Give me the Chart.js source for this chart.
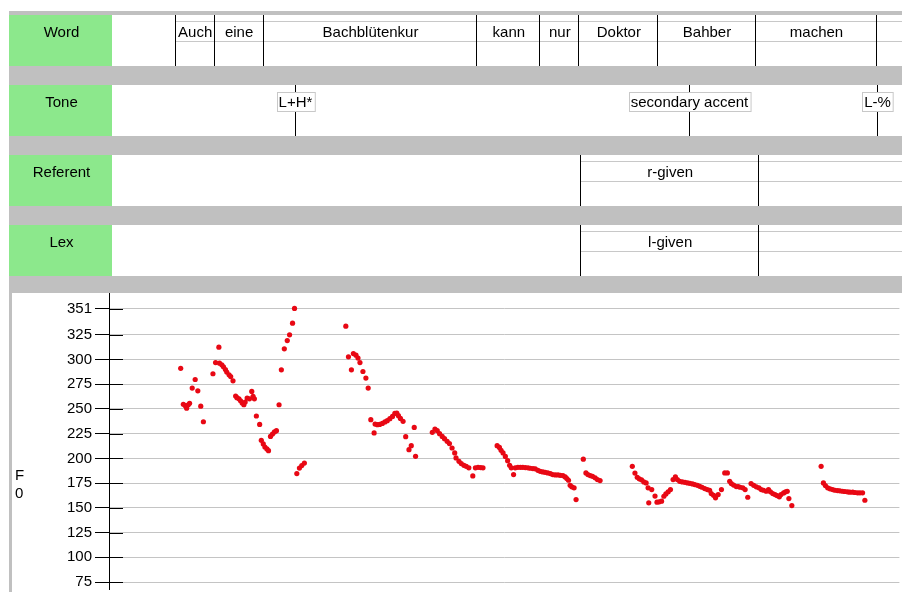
<!DOCTYPE html>
<html>
<head>
<meta charset="utf-8">
<title>F0 contour with annotation tiers</title>
<script src="https://cdn.jsdelivr.net/npm/chart.js@4/dist/chart.umd.min.js"></script>
<style>
  html, body { margin: 0; padding: 0; background: #ffffff; }
  canvas { display: block; }
</style>
</head>
<body>
<canvas id="c" width="902" height="592"></canvas>
<script>
// ---- annotation tiers (times in seconds) ----
const TIER_NAMES = ['Word', 'Tone', 'Referent', 'Lex'];
const WORD_BOUNDS = [0.200, 0.318, 0.467, 1.117, 1.308, 1.427, 1.667, 1.963, 2.333];
const WORD_LABELS = ['Auch', 'eine', 'Bachblütenkur', 'kann', 'nur', 'Doktor', 'Bahber', 'machen'];
const TONE_TIMES = [0.565, 1.763, 2.336];
const TONE_LABELS = ['L+H*', 'secondary accent', 'L-%'];
const REFERENT_BOUNDS = [1.432, 1.974];
const REFERENT_LABELS = ['r-given'];
const LEX_BOUNDS = [1.432, 1.974];
const LEX_LABELS = ['l-given'];

// ---- F0 track ----
const TIMES = [
  0.218, 0.226, 0.232, 0.236, 0.241, 0.245, 0.253, 0.262, 0.270, 0.279, 0.287,
  0.316, 0.324, 0.334, 0.336, 0.343, 0.348, 0.354, 0.358, 0.365, 0.370, 0.377,
  0.385, 0.389, 0.395, 0.400, 0.405, 0.410, 0.414, 0.420, 0.427, 0.434, 0.438, 0.442,
  0.448, 0.458, 0.463, 0.469, 0.474, 0.480, 0.485, 0.491, 0.497, 0.503, 0.509,
  0.517, 0.524, 0.533, 0.542, 0.549, 0.558, 0.564, 0.571, 0.579, 0.586, 0.594,
  0.720, 0.728, 0.737, 0.743, 0.751, 0.757, 0.763, 0.772, 0.781, 0.788, 0.796, 0.806,
  0.809, 0.816, 0.823, 0.831, 0.839, 0.846, 0.854, 0.862, 0.869, 0.875, 0.880, 0.886, 0.894,
  0.902, 0.912, 0.919, 0.928, 0.932,
  0.983, 0.991, 0.998, 1.005, 1.013, 1.020, 1.028, 1.035, 1.043, 1.051, 1.055, 1.064,
  1.071, 1.079, 1.086, 1.094, 1.106, 1.114, 1.122, 1.130, 1.137,
  1.180, 1.187, 1.192, 1.198, 1.205, 1.212, 1.218, 1.223, 1.230, 1.235, 1.243, 1.251,
  1.258, 1.266, 1.274, 1.281, 1.289, 1.296, 1.304, 1.311, 1.319, 1.326, 1.334, 1.342,
  1.349, 1.357, 1.365, 1.372, 1.380, 1.387, 1.392, 1.397, 1.402, 1.407, 1.414, 1.420,
  1.442, 1.450, 1.456, 1.463, 1.470, 1.478, 1.485, 1.493,
  1.591, 1.599, 1.606, 1.612, 1.619, 1.626, 1.633, 1.639, 1.641, 1.650, 1.660, 1.666,
  1.673, 1.680, 1.687, 1.693, 1.700, 1.707, 1.715, 1.722, 1.728, 1.735, 1.743, 1.751,
  1.759, 1.766, 1.774, 1.781, 1.789, 1.796, 1.803, 1.811, 1.819, 1.826, 1.831, 1.838,
  1.844, 1.852, 1.862, 1.872, 1.880, 1.887, 1.892, 1.899, 1.907, 1.913, 1.919, 1.927,
  1.934, 1.942, 1.952, 1.960, 1.968, 1.976, 1.983, 1.990, 1.998, 2.005, 2.011, 2.018,
  2.025, 2.031, 2.038, 2.043, 2.051, 2.057, 2.062, 2.067, 2.076,
  2.165, 2.172, 2.178, 2.185, 2.192, 2.200, 2.207, 2.215, 2.222, 2.230, 2.237, 2.245,
  2.252, 2.261, 2.268, 2.276, 2.283, 2.291, 2.298
];
const F0_HZ = [
  291.0, 254.7, 253.2, 250.7, 254.2, 255.7, 271.0, 279.7, 268.3, 252.7, 237.0,
  285.5, 296.8, 312.4, 296.2, 294.5, 292.5, 289.8, 287.2, 284.4, 282.7, 278.4,
  263.0, 261.3, 260.2, 258.2, 255.9, 254.2, 256.9, 261.0, 260.2, 267.6, 262.6, 260.2,
  242.8, 234.3, 218.2, 214.6, 211.5, 209.5, 207.8, 222.2, 224.6, 226.7, 228.0,
  254.2, 289.5, 310.7, 319.0, 324.8, 336.6, 351.5, 184.6, 190.2, 192.7, 195.2,
  333.6, 302.6, 289.5, 305.9, 304.3, 301.3, 296.8, 287.8, 281.1, 271.0, 239.1, 225.7,
  234.7, 234.0, 234.3, 235.3, 236.8, 238.1, 240.1, 242.4, 245.4, 245.8, 243.1, 240.4, 237.4,
  221.9, 208.8, 212.8, 231.3, 202.1,
  226.3, 229.7, 228.0, 225.0, 222.2, 219.9, 217.2, 214.9, 210.5, 205.5, 200.4, 197.0,
  194.7, 193.0, 192.0, 190.4, 182.3, 190.4, 191.0, 190.7, 190.4,
  212.8, 211.1, 208.1, 205.5, 202.0, 197.7, 193.0, 190.4, 183.6, 190.4, 191.0, 191.0,
  191.0, 190.7, 190.4, 190.0, 189.7, 189.4, 187.9, 186.9, 186.3, 185.9, 185.3, 184.6,
  183.6, 183.3, 183.3, 182.9, 182.6, 181.3, 179.6, 177.9, 172.8, 171.2, 170.2, 158.4,
  199.2, 185.3, 183.6, 182.6, 181.9, 180.3, 178.6, 177.6,
  192.0, 185.1, 180.9, 179.3, 178.3, 176.2, 175.2, 170.2, 155.1, 168.5, 161.9, 155.7,
  156.1, 156.7, 161.7, 164.1, 166.2, 168.5, 178.6, 181.3, 178.6, 176.8, 176.2, 175.8,
  175.2, 174.8, 174.2, 173.5, 172.8, 171.8, 170.8, 169.5, 168.5, 167.8, 164.4, 162.7,
  160.1, 163.4, 168.5, 185.3, 185.3, 176.8, 174.5, 173.0, 171.5, 171.5, 170.8, 170.2,
  168.5, 160.7, 174.5, 172.8, 171.2, 170.2, 168.5, 167.8, 166.8, 168.5, 166.2, 164.4,
  163.4, 162.4, 161.1, 163.4, 165.1, 166.2, 166.8, 159.4, 152.3,
  192.0, 175.2, 172.5, 170.2, 169.2, 168.5, 167.8, 167.5, 167.2, 166.8, 166.5, 166.2,
  165.8, 165.8, 165.5, 165.2, 165.2, 165.2, 157.7
];
const Y_TICKS = [75, 100, 125, 150, 175, 200, 225, 250, 275, 300, 325, 351];
const Y_TITLE = ['F', '0'];

const FONT = '15px "Liberation Sans", Arial, sans-serif';
const GREEN = '#8ce88c';
const PANEL_GRAY = '#c0c0c0';
const GUIDE_GRAY = '#c8c8c8';

// Tier panels, axis ticks and the F0 caption are painted around the scatter plot.
const tierPlugin = {
  id: 'tiers',
  beforeDraw(chart) {
    const ctx = chart.ctx;
    ctx.save();
    ctx.fillStyle = '#ffffff';
    ctx.fillRect(0, 0, chart.width, chart.height);
    ctx.restore();
  },
  afterDraw(chart) {
    const ctx = chart.ctx;
    const xs = chart.scales.x;
    const ys = chart.scales.y;
    const W = chart.width;
    const area = chart.chartArea;
    const TOP = 15, H = 51, STEP = 70, LABEL_W = 103, LEFT = 9;
    const px = v => Math.round(xs.getPixelForValue(v)) + 0.5;

    ctx.save();
    // grey frame behind the tiers and down the left edge of the plot
    ctx.fillStyle = PANEL_GRAY;
    ctx.fillRect(LEFT, TOP - 4, W - LEFT, area.top - (TOP - 4));
    ctx.fillRect(LEFT, area.top, 3, chart.height - area.top);

    ctx.font = FONT;
    ctx.textBaseline = 'alphabetic';

    TIER_NAMES.forEach((name, i) => {
      const top = TOP + STEP * i;
      ctx.fillStyle = GREEN;
      ctx.fillRect(LEFT, top, LABEL_W, H);
      ctx.fillStyle = '#ffffff';
      ctx.fillRect(LEFT + LABEL_W, top, W - LEFT - LABEL_W, H);
      ctx.fillStyle = '#000000';
      ctx.textAlign = 'center';
      ctx.fillText(name, LEFT + LABEL_W / 2 + 1, top + 22);
    });

    function intervalTier(top, bounds, labels) {
      const x0 = px(bounds[0]);
      ctx.strokeStyle = GUIDE_GRAY;
      ctx.lineWidth = 1;
      ctx.beginPath();
      ctx.moveTo(x0, top + 6.5); ctx.lineTo(W, top + 6.5);
      ctx.moveTo(x0, top + 26.5); ctx.lineTo(W, top + 26.5);
      ctx.stroke();
      ctx.strokeStyle = '#000000';
      ctx.beginPath();
      bounds.forEach(b => {
        const x = px(b);
        ctx.moveTo(x, top); ctx.lineTo(x, top + H);
      });
      ctx.stroke();
      ctx.fillStyle = '#000000';
      ctx.textAlign = 'center';
      labels.forEach((lab, k) => {
        const c = (xs.getPixelForValue(bounds[k]) + xs.getPixelForValue(bounds[k + 1])) / 2;
        ctx.fillText(lab, c + 1, top + 22);
      });
    }

    function eventTier(top, times, labels) {
      times.forEach((t, k) => {
        const x = px(t);
        const w = ctx.measureText(labels[k]).width + 4;
        const bx = Math.round(x - w / 2) + 0.5;
        ctx.strokeStyle = '#000000';
        ctx.lineWidth = 1;
        ctx.beginPath();
        ctx.moveTo(x, top); ctx.lineTo(x, top + 7);
        ctx.moveTo(x, top + 27); ctx.lineTo(x, top + H);
        ctx.stroke();
        ctx.fillStyle = '#ffffff';
        ctx.fillRect(bx, top + 7.5, w, 19);
        ctx.strokeStyle = GUIDE_GRAY;
        ctx.strokeRect(bx, top + 7.5, w, 19);
        ctx.fillStyle = '#000000';
        ctx.textAlign = 'center';
        ctx.fillText(labels[k], x, top + 22);
      });
    }

    intervalTier(TOP, WORD_BOUNDS, WORD_LABELS);
    eventTier(TOP + STEP, TONE_TIMES, TONE_LABELS);
    intervalTier(TOP + STEP * 2, REFERENT_BOUNDS, REFERENT_LABELS);
    intervalTier(TOP + STEP * 3, LEX_BOUNDS, LEX_LABELS);

    // tick marks cross the axis line into the plot
    ctx.strokeStyle = '#000000';
    ctx.lineWidth = 1;
    ctx.beginPath();
    Y_TICKS.forEach(v => {
      const y = Math.round(ys.getPixelForValue(v)) + 0.5;
      ctx.moveTo(area.left, y); ctx.lineTo(area.left + 14, y);
    });
    ctx.stroke();

    // F0 caption, letters stacked
    ctx.fillStyle = '#000000';
    ctx.textAlign = 'left';
    const base = ys.getPixelForValue(175);
    Y_TITLE.forEach((ch, k) => ctx.fillText(ch, 15, base - 3 + 18 * k));
    ctx.restore();
  }
};

const points = TIMES.map((t, i) => ({ x: t, y: F0_HZ[i] }));

new Chart(document.getElementById('c'), {
  type: 'scatter',
  data: {
    datasets: [{
      label: 'F0',
      data: points,
      pointStyle: 'circle',
      pointRadius: 2.6,
      pointHoverRadius: 2.6,
      borderWidth: 0,
      backgroundColor: 'rgb(232, 8, 20)'
    }]
  },
  options: {
    responsive: false,
    devicePixelRatio: 1,
    animation: false,
    layout: { padding: { top: 293, left: 0, right: 0, bottom: 0 } },
    plugins: { legend: { display: false }, tooltip: { enabled: false } },
    scales: {
      x: {
        type: 'linear',
        display: false,
        min: 0,
        max: 2.403
      },
      y: {
        type: 'linear',
        min: 67.6,
        max: 367.1,
        afterBuildTicks: scale => { scale.ticks = Y_TICKS.map(v => ({ value: v })); },
        afterFit: scale => {
          scale.width = 109;
          scale.paddingTop = 0;
          scale.paddingBottom = 0;
        },
        ticks: {
          autoSkip: false,
          padding: 3,
          color: '#000000',
          font: { family: '"Liberation Sans", Arial, sans-serif', size: 15 },
          callback: v => String(v)
        },
        grid: {
          color: '#c4c4c4',
          lineWidth: 1,
          drawTicks: true,
          tickLength: 14,
          tickColor: '#000000',
          tickWidth: 1
        },
        border: { display: true, color: '#000000', width: 1 }
      }
    }
  },
  plugins: [tierPlugin]
});
</script>
</body>
</html>
